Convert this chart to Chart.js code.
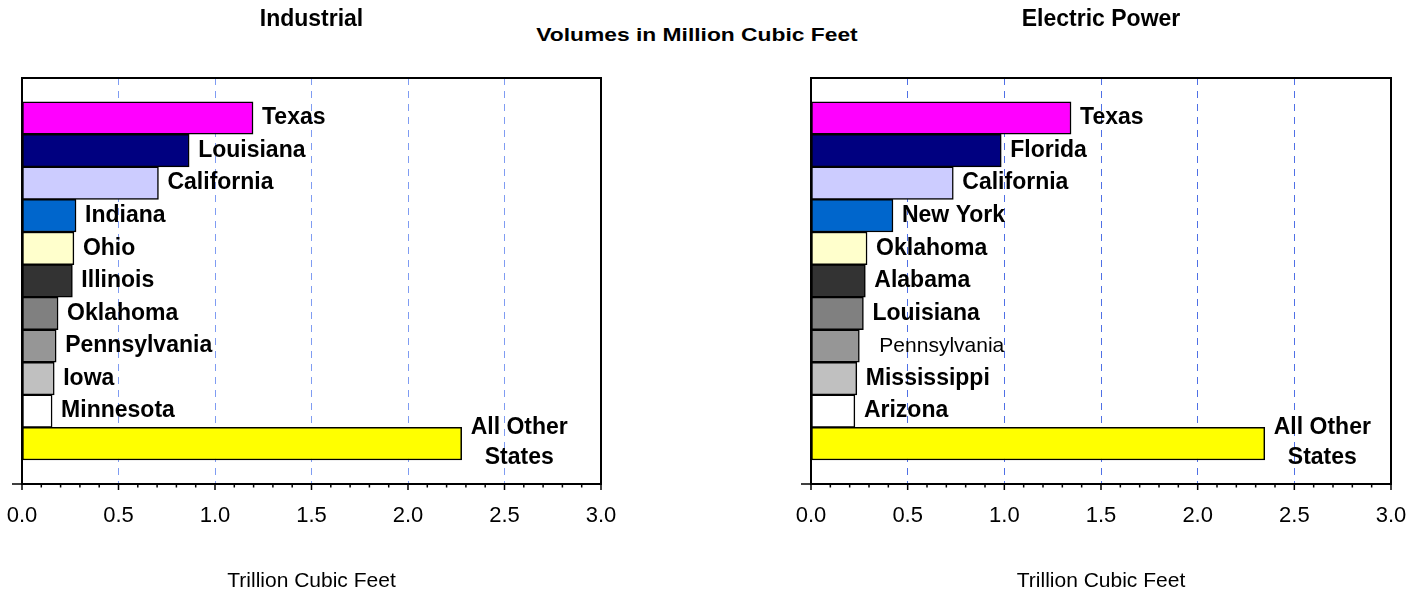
<!DOCTYPE html>
<html>
<head>
<meta charset="utf-8">
<title>Industrial and Electric Power natural gas consumption</title>
<script src="https://cdn.jsdelivr.net/npm/chart.js@4.4.0/dist/chart.umd.min.js"></script>
<style>
  html, body { margin: 0; padding: 0; background: #fff; }
  body { width: 1421px; height: 594px; position: relative; overflow: hidden;
         font-family: 'Liberation Sans', Arial, Helvetica, sans-serif; }
  #wrapLeft { position: absolute; left: 0; top: 0; width: 630px; height: 594px; }
  #wrapRight { position: absolute; left: 789px; top: 0; width: 632px; height: 594px; }
  #subtitle { position: absolute; left: 0; width: 1394px; top: 24px; text-align: center;
              font-weight: bold; font-size: 19px; color: #000;
              transform: scaleX(1.2); transform-origin: 697px 0; }
</style>
</head>
<body>
<div id="subtitle">Volumes in Million Cubic Feet</div>
<div id="wrapLeft"><canvas id="industrial-chart"></canvas></div>
<div id="wrapRight"><canvas id="electric-chart"></canvas></div>

<script>
// Данные (трлн куб. футов)
const industrialStates = ['Texas', 'Louisiana', 'California', 'Indiana', 'Ohio', 'Illinois',
    'Oklahoma', 'Pennsylvania', 'Iowa', 'Minnesota', ['All Other', 'States']];
const industrialValues = [1.197, 0.866, 0.707, 0.280, 0.269, 0.261, 0.187, 0.177, 0.167, 0.156, 2.278];

const electricStates = ['Texas', 'Florida', 'California', 'New York', 'Oklahoma', 'Alabama',
    'Louisiana', 'Pennsylvania', 'Mississippi', 'Arizona', ['All Other', 'States']];
const electricValues = [1.345, 0.984, 0.736, 0.424, 0.290, 0.281, 0.271, 0.250, 0.237, 0.227, 2.347];

const barColors = ['#ff00ff', '#000080', '#ccccff', '#0066cc', '#ffffcc', '#333333',
    '#808080', '#969696', '#c0c0c0', '#ffffff', '#ffff00'];

const xTickValues = [0, 0.5, 1, 1.5, 2, 2.5, 3];

const FONT = "'Liberation Sans', Arial, Helvetica, sans-serif";
Chart.defaults.font.family = FONT;
Chart.defaults.color = '#000';

function makeChart(canvasId, title, states, values, cfg) {
    // рамка, мелкие засечки и подписи штатов
    const decorPlugin = {
        id: 'decor',
        afterDatasetsDraw(chart) {
            const { ctx, chartArea: a, scales: { x } } = chart;
            ctx.save();
            ctx.strokeStyle = '#000';
            ctx.lineWidth = 1.5;
            ctx.beginPath();
            for (let i = 0; i <= 30; i++) {
                const px = x.getPixelForValue(i / 10);
                ctx.moveTo(px, a.bottom);
                ctx.lineTo(px, a.bottom + (i % 5 === 0 ? 6 : 3.5));
            }
            ctx.moveTo(a.left - 10, a.bottom);
            ctx.lineTo(a.left, a.bottom);
            ctx.stroke();

            ctx.lineWidth = 2;
            ctx.strokeRect(a.left, a.top, a.right - a.left, a.bottom - a.top);

            ctx.fillStyle = '#000';
            ctx.textBaseline = 'middle';
            const meta = chart.getDatasetMeta(0);
            meta.data.forEach((bar, i) => {
                const name = states[i];
                const plain = cfg.plain.includes(name);
                ctx.font = (plain ? 'normal 21px ' : 'bold 23px ') + FONT;
                if (Array.isArray(name)) {
                    ctx.textAlign = 'center';
                    const w = Math.max(...name.map(t => ctx.measureText(t).width));
                    const cx = bar.x + 9 + w / 2;
                    name.forEach((t, k) => {
                        ctx.fillText(t, cx, bar.y - 1 + (k - (name.length - 1) / 2) * 30);
                    });
                } else {
                    ctx.textAlign = 'left';
                    ctx.fillText(name, bar.x + (plain ? 20 : 9), bar.y);
                }
            });
            ctx.restore();
        }
    };

    return new Chart(document.getElementById(canvasId), {
        type: 'bar',
        data: {
            datasets: [{
                data: values.map((v, i) => ({ x: v, y: i })),
                backgroundColor: barColors,
                borderColor: '#000',
                borderWidth: 1.5,
                borderSkipped: false,
                barPercentage: 1,
                categoryPercentage: 1
            }]
        },
        options: {
            indexAxis: 'y',
            responsive: true,
            maintainAspectRatio: false,
            animation: false,
            layout: { padding: { left: 22, right: cfg.padRight, top: 0, bottom: 0 } },
            scales: {
                x: {
                    type: 'linear',
                    min: 0,
                    max: 3,
                    afterBuildTicks: s => { s.ticks = xTickValues.map(v => ({ value: v })); },
                    afterFit: s => { s.height = 110; },
                    grid: {
                        color: c => (c.tick && (c.tick.value === 0 || c.tick.value === 3)) ? 'rgba(0,0,0,0)' : cfg.gridColor,
                        lineWidth: 1,
                        drawTicks: false
                    },
                    border: { display: false, dash: [7, 6] },
                    ticks: {
                        padding: 2,
                        autoSkip: false,
                        maxRotation: 0,
                        font: { size: 22, lineHeight: 2.7 },
                        callback: v => Number(v).toFixed(1)
                    },
                    title: {
                        display: true,
                        text: 'Trillion Cubic Feet',
                        font: { size: 21 },
                        padding: { top: 0, bottom: 0 }
                    }
                },
                y: {
                    type: 'linear',
                    min: -1.228,
                    max: 11.237,
                    reverse: true,
                    offset: false,
                    display: false,
                    // тики по центрам полос, чтобы ширина столбца = 1 деление
                    afterBuildTicks: s => { s.ticks = values.map((v, i) => ({ value: i })); }
                }
            },
            plugins: {
                legend: { display: false },
                tooltip: { enabled: false },
                title: {
                    display: true,
                    text: title,
                    fullSize: false,
                    font: { size: 23, weight: 'bold' },
                    padding: { top: 6, bottom: 44.4 }
                }
            }
        },
        plugins: [decorPlugin]
    });
}

document.addEventListener('DOMContentLoaded', function() {
    makeChart('industrial-chart', 'Industrial', industrialStates, industrialValues,
        { padRight: 29, gridColor: '#7f9cf2', plain: [] });
    makeChart('electric-chart', 'Electric Power', electricStates, electricValues,
        { padRight: 30, gridColor: '#4f70e6', plain: ['Pennsylvania'] });
});
</script>
</body>
</html>
